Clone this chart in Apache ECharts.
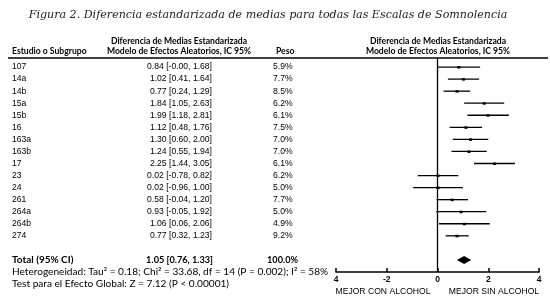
<!DOCTYPE html>
<html><head><meta charset="utf-8">
<script src="https://cdn.jsdelivr.net/npm/echarts@6/dist/echarts.min.js"></script>
<style>html,body{margin:0;padding:0;background:#fff}#c{width:550px;height:306px}</style>
</head><body><div id="c"></div>
<script>
var title = 'Figura 2. Diferencia estandarizada de medias para todas las Escalas de Somnolencia';
var studies = ['107','14a','14b','15a','15b','16','163a','163b','17','23','24','261','264a','264b','274'];
var est = [0.84,1.02,0.77,1.84,1.99,1.12,1.30,1.24,2.25,0.02,0.02,0.58,0.93,1.06,0.77];
var lo  = [-0.00,0.41,0.24,1.05,1.18,0.48,0.60,0.55,1.44,-0.78,-0.96,-0.04,-0.05,0.06,0.32];
var hi  = [1.68,1.64,1.29,2.63,2.81,1.76,2.00,1.94,3.05,0.82,1.00,1.20,1.92,2.06,1.23];
var ciText = ['0.84 [-0.00, 1.68]','1.02 [0.41, 1.64]','0.77 [0.24, 1.29]','1.84 [1.05, 2.63]','1.99 [1.18, 2.81]','1.12 [0.48, 1.76]','1.30 [0.60, 2.00]','1.24 [0.55, 1.94]','2.25 [1.44, 3.05]','0.02 [-0.78, 0.82]','0.02 [-0.96, 1.00]','0.58 [-0.04, 1.20]','0.93 [-0.05, 1.92]','1.06 [0.06, 2.06]','0.77 [0.32, 1.23]'];
var weights = ['5.9%','7.7%','8.5%','6.2%','6.1%','7.5%','7.0%','7.0%','6.1%','6.2%','5.0%','7.7%','5.0%','4.9%','9.2%'];
var total = {label:'Total (95% CI)', est:1.05, lo:0.76, hi:1.33, ci:'1.05 [0.76, 1.33]', weight:'100.0%'};
var totalRow = 16;
var heteroText = 'Heterogeneidad: Tau\u00b2 = 0.18; Chi\u00b2 = 33.68, df = 14 (P = 0.002); I\u00b2 = 58%';
var testText = 'Test para el Efecto Global: Z = 7.12 (P < 0.00001)';
var headers = {study:'Estudio o Subgrupo', ci1:'Diferencia de Medias Estandarizada', ci2:'Modelo de Efectos Aleatorios, IC 95%', weight:'Peso'};
var tickLabels = ['4','-2','0','2','4'];
var directionLabels = ['MEJOR CON ALCOHOL','MEJOR SIN ALCOHOL'];

var rows = studies.map(function(s,i){return [i, lo[i], hi[i], est[i]];});
var chart = echarts.init(document.getElementById('c'), null, {renderer:'canvas'});
var hdrFont = 'Lato';
var rowFont = 'Liberation Sans';

chart.setOption({
  animation:false,
  grid:{left:336, width:203, top:58, height:214},
  xAxis:{type:'value', min:-4, max:4, interval:2,
    axisLine:{onZero:false, lineStyle:{color:'#000', width:1.5}},
    axisTick:{inside:true, length:4, lineStyle:{color:'#000', width:1.5}},
    splitLine:{show:false},
    axisLabel:{margin:3, color:'#000', fontFamily:rowFont, fontWeight:'bold', fontSize:8.5,
      formatter:function(v){return tickLabels[Math.round((v+4)/2)];}}},
  yAxis:{type:'value', min:-0.75, max:17, inverse:true, show:false},
  graphic:[
    {type:'text', x:268, y:15, style:{text:title, font:'italic 11.1px "DejaVu Serif"', fill:'#222', textAlign:'center', textVerticalAlign:'middle'}},
    {type:'line', shape:{x1:8, y1:58, x2:548, y2:58}, style:{stroke:'#000', lineWidth:1.6}},
    {type:'text', x:12, y:51, style:{text:headers.study, font:'bold 8.6px '+hdrFont, fill:'#000', textVerticalAlign:'middle'}},
    {type:'text', x:179, y:41, style:{text:headers.ci1, font:'bold 8.6px '+hdrFont, fill:'#000', textAlign:'center', textVerticalAlign:'middle'}},
    {type:'text', x:179, y:51, style:{text:headers.ci2, font:'bold 8.6px '+hdrFont, fill:'#000', textAlign:'center', textVerticalAlign:'middle'}},
    {type:'text', x:276, y:51, style:{text:headers.weight, font:'bold 8.6px '+hdrFont, fill:'#000', textVerticalAlign:'middle'}},
    {type:'text', x:438, y:41, style:{text:headers.ci1, font:'bold 8.6px '+hdrFont, fill:'#000', textAlign:'center', textVerticalAlign:'middle'}},
    {type:'text', x:438, y:51, style:{text:headers.ci2, font:'bold 8.6px '+hdrFont, fill:'#000', textAlign:'center', textVerticalAlign:'middle'}},
    {type:'text', x:12, y:272, style:{text:heteroText, font:'10.1px '+hdrFont, fill:'#000', textVerticalAlign:'middle'}},
    {type:'text', x:12, y:284, style:{text:testText, font:'10.1px '+hdrFont, fill:'#000', textVerticalAlign:'middle'}},
    {type:'text', x:383, y:292, style:{text:directionLabels[0], font:'8.6px '+rowFont, fill:'#000', textAlign:'center', textVerticalAlign:'middle'}},
    {type:'text', x:494, y:292, style:{text:directionLabels[1], font:'8.6px '+rowFont, fill:'#000', textAlign:'center', textVerticalAlign:'middle'}}
  ],
  series:[
    {type:'custom', data:rows, clip:false,
      renderItem:function(params, api){
        var i = api.value(0);
        var p1 = api.coord([api.value(1), i]);
        var p2 = api.coord([api.value(2), i]);
        var pe = api.coord([api.value(3), i]);
        var y = p1[1];
        return {type:'group', children:[
          {type:'line', shape:{x1:p1[0], y1:y, x2:p2[0], y2:y}, style:{stroke:'#000', lineWidth:1.3}},
          {type:'rect', shape:{x:pe[0]-1.5, y:y-1, width:3, height:2.5}, style:{fill:'#000'}},
          {type:'text', x:12, y:y, style:{text:studies[i], font:'8.6px '+rowFont, fill:'#000', textVerticalAlign:'middle'}},
          {type:'text', x:212, y:y, style:{text:ciText[i], font:'8.6px '+rowFont, fill:'#000', textAlign:'right', textVerticalAlign:'middle'}},
          {type:'text', x:273, y:y, style:{text:weights[i], font:'8.6px '+rowFont, fill:'#000', textVerticalAlign:'middle'}}
        ]};
      },
      markLine:{silent:true, symbol:'none', label:{show:false}, lineStyle:{color:'#000', width:1.3, type:'solid'},
        data:[{xAxis:0}]}
    },
    {type:'custom', data:[[totalRow, total.lo, total.hi, total.est]], clip:false,
      renderItem:function(params, api){
        var r = api.value(0);
        var pl = api.coord([api.value(1), r]);
        var ph = api.coord([api.value(2), r]);
        var pe = api.coord([api.value(3), r]);
        var y = pl[1];
        return {type:'group', children:[
          {type:'polygon', shape:{points:[[pl[0],y],[pe[0],y-4],[ph[0],y],[pe[0],y+4]]}, style:{fill:'#000'}},
          {type:'text', x:12, y:y, style:{text:total.label, font:'bold 10px '+hdrFont, fill:'#000', textVerticalAlign:'middle'}},
          {type:'text', x:213, y:y, style:{text:total.ci, font:'bold 9.2px '+hdrFont, fill:'#000', textAlign:'right', textVerticalAlign:'middle'}},
          {type:'text', x:267, y:y, style:{text:total.weight, font:'bold 9.2px '+hdrFont, fill:'#000', textVerticalAlign:'middle'}}
        ]};
      }
    }
  ]
});
</script></body></html>
